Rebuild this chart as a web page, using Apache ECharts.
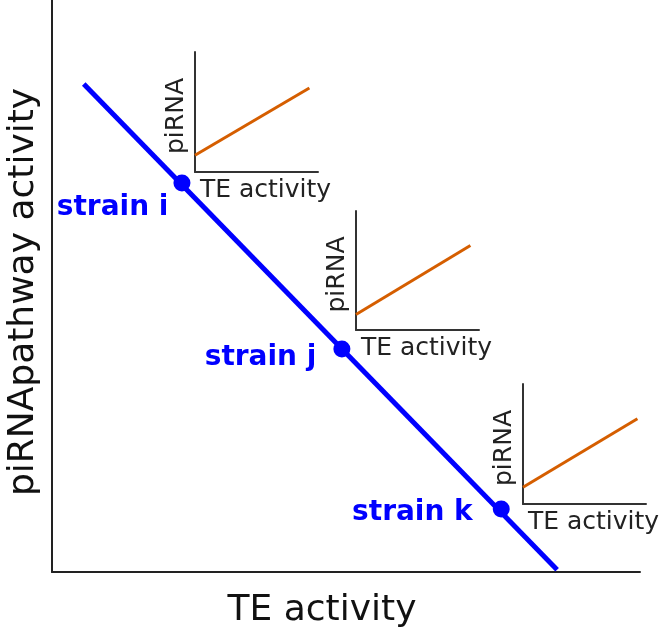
<!DOCTYPE html>
<html>
<head>
<meta charset="utf-8">
<script src="https://cdn.jsdelivr.net/npm/echarts@6/dist/echarts.min.js"></script>
<style>
  html, body { margin: 0; padding: 0; background: #fff; }
  #chart { width: 661px; height: 628px; }
</style>
</head>
<body>
<div id="chart"></div>
<script>
// main trade-off line (0..100 on both axes)
var lineX = [5.4, 85.9];
var lineY = [85.3, 0.4];

// strains on the line
var strainNames = ['strain i', 'strain j', 'strain k'];
var strainX = [22.1, 49.3, 76.4];
var strainY = [68.0, 39.0, 11.0];

// inset lines: piRNA vs TE activity (0..1)
var insetX = [0, 0.93];
var insetY = [[0.14, 0.70], [0.13, 0.71], [0.14, 0.71]];

// label nudges, per strain
var labelOffsets = [[0, 25], [-12, 9], [-15, 4]];

var font = 'DejaVu Sans';
var chart = echarts.init(document.getElementById('chart'));

var insetGrids = [
  { left: 195, top: 52, width: 123, height: 120, outerBoundsMode: 'none' },
  { left: 356, top: 211, width: 123, height: 119, outerBoundsMode: 'none' },
  { left: 523, top: 384, width: 123, height: 120, outerBoundsMode: 'none' }
];

var xAxes = [{
  type: 'value', gridIndex: 0, min: 0, max: 100,
  name: 'TE activity', nameLocation: 'middle', nameGap: 21,
  nameTextStyle: { fontFamily: font, fontSize: 36, color: '#111', padding: [0, 48, 0, 0] },
  axisLine: { onZero: false, lineStyle: { color: '#222', width: 2 } },
  axisTick: { show: false }, axisLabel: { show: false }, splitLine: { show: false }
}];
var yAxes = [{
  type: 'value', gridIndex: 0, min: 0, max: 100,
  name: 'piRNApathway activity', nameLocation: 'middle', nameGap: 10,
  nameTextStyle: { fontFamily: font, fontSize: 36, color: '#111', padding: [0, 12, 0, 0] },
  axisLine: { show: true, onZero: false, lineStyle: { color: '#222', width: 2 } },
  axisTick: { show: false }, axisLabel: { show: false }, splitLine: { show: false }
}];

var series = [{
  type: 'line', xAxisIndex: 0, yAxisIndex: 0,
  data: lineX.map(function (x, i) { return [x, lineY[i]]; }),
  showSymbol: false, silent: true, z: 5,
  lineStyle: { color: '#0000ff', width: 5 }
}, {
  type: 'scatter', xAxisIndex: 0, yAxisIndex: 0, z: 6,
  symbolSize: 17,
  itemStyle: { color: '#0000ff', opacity: 1 },
  data: strainX.map(function (x, i) {
    return {
      value: [x, strainY[i]],
      name: strainNames[i],
      label: { offset: labelOffsets[i] }
    };
  }),
  label: {
    show: true, position: 'left', distance: 5,
    formatter: '{b}',
    fontFamily: font, fontSize: 28, fontWeight: 'bold', color: '#0000ff', opacity: 1
  }
}];

insetGrids.forEach(function (g, k) {
  var idx = k + 1;
  xAxes.push({
    type: 'value', gridIndex: idx, min: 0, max: 1,
    name: 'TE activity', nameLocation: 'middle', nameGap: 6,
    nameTextStyle: { fontFamily: font, fontSize: 25, color: '#222', verticalAlign: 'top', padding: [0, 0, 0, 18] },
    axisLine: { onZero: false, lineStyle: { color: '#333', width: 2 } },
    axisTick: { show: false }, axisLabel: { show: false }, splitLine: { show: false }
  });
  yAxes.push({
    type: 'value', gridIndex: idx, min: 0, max: 1,
    name: 'piRNA', nameLocation: 'middle', nameGap: 6,
    nameTextStyle: { fontFamily: font, fontSize: 25, color: '#222', padding: [0, 8, 0, 0] },
    axisLine: { show: true, onZero: false, lineStyle: { color: '#333', width: 2 } },
    axisTick: { show: false }, axisLabel: { show: false }, splitLine: { show: false }
  });
  series.push({
    type: 'line', xAxisIndex: idx, yAxisIndex: idx,
    data: insetX.map(function (x, i) { return [x, insetY[k][i]]; }),
    showSymbol: false, silent: true, z: 3,
    lineStyle: { color: '#d55e00', width: 3 }
  });
});

chart.setOption({
  animation: false,
  grid: [{ left: 52, top: 0, width: 588, height: 572, outerBoundsMode: 'none' }].concat(insetGrids),
  xAxis: xAxes,
  yAxis: yAxes,
  series: series
});
</script>
</body>
</html>
